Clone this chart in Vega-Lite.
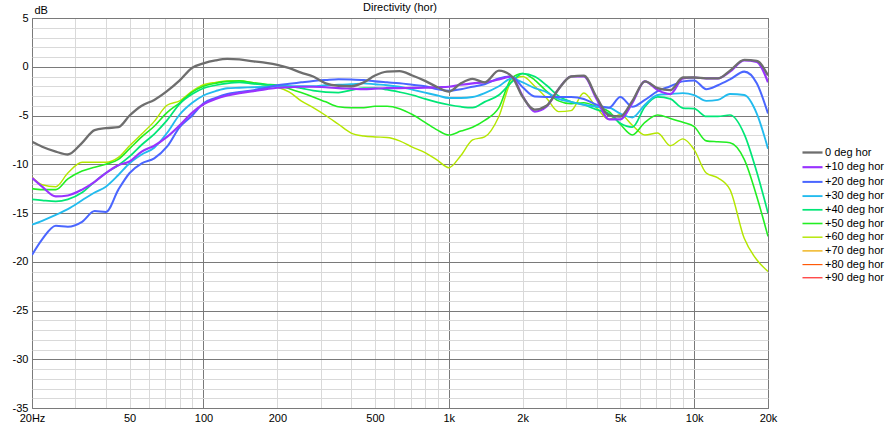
{
  "$schema": "https://vega.github.io/schema/vega-lite/v6.json",
  "width": 736,
  "height": 390,
  "autosize": "none",
  "padding": {"left": 32, "top": 18, "right": 124, "bottom": 20},
  "background": "white",
  "title": {"text": "Directivity (hor)", "fontSize": 11, "fontWeight": "normal", "offset": -9, "color": "#000"},
  "data": {
    "values": [
      {"f": 20, "0 deg hor": -7.7, "+10 deg hor": -11.4, "+20 deg hor": -19.3, "+30 deg hor": -16.2, "+40 deg hor": -13.6, "+50 deg hor": -12.5, "+60 deg hor": -11.3},
      {"f": 22, "0 deg hor": -8.2, "+10 deg hor": -12.3, "+20 deg hor": -17.7, "+30 deg hor": -15.8, "+40 deg hor": -13.7, "+50 deg hor": -12.6, "+60 deg hor": -12.1},
      {"f": 25, "0 deg hor": -8.7, "+10 deg hor": -13.3, "+20 deg hor": -16.3, "+30 deg hor": -15.2, "+40 deg hor": -13.8, "+50 deg hor": -12.6, "+60 deg hor": -12.3},
      {"f": 28, "0 deg hor": -9.0, "+10 deg hor": -13.2, "+20 deg hor": -16.4, "+30 deg hor": -14.6, "+40 deg hor": -13.6, "+50 deg hor": -11.5, "+60 deg hor": -10.9},
      {"f": 32, "0 deg hor": -7.8, "+10 deg hor": -12.6, "+20 deg hor": -15.9, "+30 deg hor": -13.7, "+40 deg hor": -12.9, "+50 deg hor": -10.7, "+60 deg hor": -9.8},
      {"f": 36, "0 deg hor": -6.5, "+10 deg hor": -11.8, "+20 deg hor": -14.8, "+30 deg hor": -12.9, "+40 deg hor": -11.8, "+50 deg hor": -10.3, "+60 deg hor": -9.8},
      {"f": 40, "0 deg hor": -6.3, "+10 deg hor": -10.9, "+20 deg hor": -14.9, "+30 deg hor": -12.3, "+40 deg hor": -10.9, "+50 deg hor": -10.0, "+60 deg hor": -9.8},
      {"f": 45, "0 deg hor": -6.2, "+10 deg hor": -10.1, "+20 deg hor": -12.6, "+30 deg hor": -11.1, "+40 deg hor": -10.1, "+50 deg hor": -9.5, "+60 deg hor": -9.3},
      {"f": 50, "0 deg hor": -5.0, "+10 deg hor": -9.7, "+20 deg hor": -10.9, "+30 deg hor": -9.9, "+40 deg hor": -9.2, "+50 deg hor": -8.4, "+60 deg hor": -8.1},
      {"f": 56, "0 deg hor": -4.0, "+10 deg hor": -8.7, "+20 deg hor": -9.9, "+30 deg hor": -9.0, "+40 deg hor": -8.0, "+50 deg hor": -7.2, "+60 deg hor": -6.9},
      {"f": 63, "0 deg hor": -3.4, "+10 deg hor": -8.1, "+20 deg hor": -9.4, "+30 deg hor": -8.3, "+40 deg hor": -6.9, "+50 deg hor": -6.1, "+60 deg hor": -5.6},
      {"f": 71, "0 deg hor": -2.5, "+10 deg hor": -7.2, "+20 deg hor": -8.2, "+30 deg hor": -6.8, "+40 deg hor": -5.5, "+50 deg hor": -4.7, "+60 deg hor": -3.95},
      {"f": 80, "0 deg hor": -1.4, "+10 deg hor": -6.0, "+20 deg hor": -6.2, "+30 deg hor": -4.9, "+40 deg hor": -3.8, "+50 deg hor": -3.7, "+60 deg hor": -3.5},
      {"f": 90, "0 deg hor": -0.1, "+10 deg hor": -4.7, "+20 deg hor": -5.0, "+30 deg hor": -3.7, "+40 deg hor": -2.8, "+50 deg hor": -2.6, "+60 deg hor": -2.5},
      {"f": 100, "0 deg hor": 0.35, "+10 deg hor": -3.85, "+20 deg hor": -3.75, "+30 deg hor": -2.95, "+40 deg hor": -2.2, "+50 deg hor": -2.0, "+60 deg hor": -1.85},
      {"f": 112, "0 deg hor": 0.65, "+10 deg hor": -3.3, "+20 deg hor": -3.2, "+30 deg hor": -2.5, "+40 deg hor": -1.9, "+50 deg hor": -1.7, "+60 deg hor": -1.6},
      {"f": 125, "0 deg hor": 0.8, "+10 deg hor": -2.95, "+20 deg hor": -2.8, "+30 deg hor": -2.2, "+40 deg hor": -1.7, "+50 deg hor": -1.5, "+60 deg hor": -1.45},
      {"f": 140, "0 deg hor": 0.75, "+10 deg hor": -2.7, "+20 deg hor": -2.6, "+30 deg hor": -2.15, "+40 deg hor": -1.6, "+50 deg hor": -1.45, "+60 deg hor": -1.45},
      {"f": 160, "0 deg hor": 0.55, "+10 deg hor": -2.5, "+20 deg hor": -2.4, "+30 deg hor": -2.1, "+40 deg hor": -1.75, "+50 deg hor": -1.65, "+60 deg hor": -1.65},
      {"f": 180, "0 deg hor": 0.4, "+10 deg hor": -2.3, "+20 deg hor": -2.15, "+30 deg hor": -2.05, "+40 deg hor": -1.85, "+50 deg hor": -1.8, "+60 deg hor": -1.9},
      {"f": 200, "0 deg hor": 0.2, "+10 deg hor": -2.15, "+20 deg hor": -1.9, "+30 deg hor": -2.0, "+40 deg hor": -1.9, "+50 deg hor": -1.9, "+60 deg hor": -2.1},
      {"f": 224, "0 deg hor": -0.15, "+10 deg hor": -2.1, "+20 deg hor": -1.75, "+30 deg hor": -2.0, "+40 deg hor": -2.0, "+50 deg hor": -2.25, "+60 deg hor": -2.6},
      {"f": 250, "0 deg hor": -0.6, "+10 deg hor": -2.05, "+20 deg hor": -1.6, "+30 deg hor": -2.0, "+40 deg hor": -2.2, "+50 deg hor": -2.65, "+60 deg hor": -3.5},
      {"f": 280, "0 deg hor": -1.0, "+10 deg hor": -2.05, "+20 deg hor": -1.45, "+30 deg hor": -2.0, "+40 deg hor": -2.45, "+50 deg hor": -3.1, "+60 deg hor": -4.2},
      {"f": 315, "0 deg hor": -1.7, "+10 deg hor": -2.1, "+20 deg hor": -1.35, "+30 deg hor": -1.9, "+40 deg hor": -2.6, "+50 deg hor": -3.6, "+60 deg hor": -5.0},
      {"f": 355, "0 deg hor": -1.95, "+10 deg hor": -2.2, "+20 deg hor": -1.27, "+30 deg hor": -1.85, "+40 deg hor": -2.65, "+50 deg hor": -4.1, "+60 deg hor": -5.9},
      {"f": 400, "0 deg hor": -2.0, "+10 deg hor": -2.25, "+20 deg hor": -1.3, "+30 deg hor": -1.8, "+40 deg hor": -2.4, "+50 deg hor": -4.2, "+60 deg hor": -6.8},
      {"f": 450, "0 deg hor": -1.6, "+10 deg hor": -2.3, "+20 deg hor": -1.37, "+30 deg hor": -1.7, "+40 deg hor": -2.2, "+50 deg hor": -4.2, "+60 deg hor": -7.1},
      {"f": 500, "0 deg hor": -0.9, "+10 deg hor": -2.25, "+20 deg hor": -1.5, "+30 deg hor": -1.8, "+40 deg hor": -2.2, "+50 deg hor": -4.05, "+60 deg hor": -7.2},
      {"f": 560, "0 deg hor": -0.5, "+10 deg hor": -2.2, "+20 deg hor": -1.6, "+30 deg hor": -1.9, "+40 deg hor": -2.35, "+50 deg hor": -4.05, "+60 deg hor": -7.25},
      {"f": 630, "0 deg hor": -0.45, "+10 deg hor": -2.2, "+20 deg hor": -1.7, "+30 deg hor": -2.05, "+40 deg hor": -2.6, "+50 deg hor": -4.3, "+60 deg hor": -7.6},
      {"f": 710, "0 deg hor": -0.9, "+10 deg hor": -2.17, "+20 deg hor": -1.85, "+30 deg hor": -2.35, "+40 deg hor": -2.9, "+50 deg hor": -4.9, "+60 deg hor": -8.25},
      {"f": 800, "0 deg hor": -1.45, "+10 deg hor": -2.15, "+20 deg hor": -2.0, "+30 deg hor": -2.65, "+40 deg hor": -3.3, "+50 deg hor": -5.7, "+60 deg hor": -8.8},
      {"f": 900, "0 deg hor": -2.1, "+10 deg hor": -2.1, "+20 deg hor": -2.3, "+30 deg hor": -2.95, "+40 deg hor": -3.65, "+50 deg hor": -6.5, "+60 deg hor": -9.6},
      {"f": 1000, "0 deg hor": -2.55, "+10 deg hor": -2.05, "+20 deg hor": -2.45, "+30 deg hor": -3.2, "+40 deg hor": -3.9, "+50 deg hor": -7.0, "+60 deg hor": -10.35},
      {"f": 1120, "0 deg hor": -1.7, "+10 deg hor": -1.85, "+20 deg hor": -2.3, "+30 deg hor": -3.2, "+40 deg hor": -4.1, "+50 deg hor": -6.6, "+60 deg hor": -9.1},
      {"f": 1250, "0 deg hor": -1.25, "+10 deg hor": -1.7, "+20 deg hor": -2.05, "+30 deg hor": -3.1, "+40 deg hor": -4.2, "+50 deg hor": -6.2, "+60 deg hor": -7.5},
      {"f": 1400, "0 deg hor": -1.6, "+10 deg hor": -1.6, "+20 deg hor": -1.8, "+30 deg hor": -2.7, "+40 deg hor": -3.6, "+50 deg hor": -5.5, "+60 deg hor": -7.2},
      {"f": 1600, "0 deg hor": -0.4, "+10 deg hor": -1.3, "+20 deg hor": -1.2, "+30 deg hor": -2.0, "+40 deg hor": -2.9, "+50 deg hor": -4.2, "+60 deg hor": -5.1},
      {"f": 1800, "0 deg hor": -0.95, "+10 deg hor": -1.0, "+20 deg hor": -1.0, "+30 deg hor": -1.2, "+40 deg hor": -1.6, "+50 deg hor": -1.2, "+60 deg hor": -1.5},
      {"f": 2000, "0 deg hor": -3.1, "+10 deg hor": -3.0, "+20 deg hor": -2.1, "+30 deg hor": -1.6, "+40 deg hor": -0.7, "+50 deg hor": -0.7, "+60 deg hor": -1.0},
      {"f": 2240, "0 deg hor": -4.4, "+10 deg hor": -4.6, "+20 deg hor": -3.05, "+30 deg hor": -2.2, "+40 deg hor": -1.0, "+50 deg hor": -1.36, "+60 deg hor": -2.0},
      {"f": 2500, "0 deg hor": -4.0, "+10 deg hor": -4.1, "+20 deg hor": -3.1, "+30 deg hor": -2.6, "+40 deg hor": -1.9, "+50 deg hor": -2.5, "+60 deg hor": -3.2},
      {"f": 2800, "0 deg hor": -2.3, "+10 deg hor": -2.3, "+20 deg hor": -3.1, "+30 deg hor": -3.3, "+40 deg hor": -3.0, "+50 deg hor": -3.5, "+60 deg hor": -4.6},
      {"f": 3150, "0 deg hor": -1.0, "+10 deg hor": -1.0, "+20 deg hor": -3.1, "+30 deg hor": -3.6, "+40 deg hor": -3.6, "+50 deg hor": -3.8, "+60 deg hor": -4.5},
      {"f": 3550, "0 deg hor": -0.9, "+10 deg hor": -1.0, "+20 deg hor": -3.3, "+30 deg hor": -3.9, "+40 deg hor": -3.9, "+50 deg hor": -3.7, "+60 deg hor": -2.7},
      {"f": 4000, "0 deg hor": -3.1, "+10 deg hor": -3.3, "+20 deg hor": -3.9, "+30 deg hor": -4.1, "+40 deg hor": -4.4, "+50 deg hor": -4.1, "+60 deg hor": -4.2},
      {"f": 4500, "0 deg hor": -5.0, "+10 deg hor": -5.4, "+20 deg hor": -4.2, "+30 deg hor": -4.2, "+40 deg hor": -4.8, "+50 deg hor": -4.6, "+60 deg hor": -5.4},
      {"f": 5000, "0 deg hor": -5.1, "+10 deg hor": -5.4, "+20 deg hor": -3.1, "+30 deg hor": -4.8, "+40 deg hor": -5.8, "+50 deg hor": -5.9, "+60 deg hor": -4.9},
      {"f": 5600, "0 deg hor": -3.5, "+10 deg hor": -3.7, "+20 deg hor": -4.1, "+30 deg hor": -5.2, "+40 deg hor": -6.2, "+50 deg hor": -7.0, "+60 deg hor": -6.0},
      {"f": 6300, "0 deg hor": -1.5, "+10 deg hor": -1.5, "+20 deg hor": -3.4, "+30 deg hor": -3.9, "+40 deg hor": -4.1, "+50 deg hor": -5.7, "+60 deg hor": -7.0},
      {"f": 7100, "0 deg hor": -2.2, "+10 deg hor": -2.4, "+20 deg hor": -2.5, "+30 deg hor": -2.9, "+40 deg hor": -3.1, "+50 deg hor": -4.95, "+60 deg hor": -6.8},
      {"f": 8000, "0 deg hor": -2.4, "+10 deg hor": -2.8, "+20 deg hor": -2.0, "+30 deg hor": -2.8, "+40 deg hor": -3.3, "+50 deg hor": -5.3, "+60 deg hor": -8.1},
      {"f": 9000, "0 deg hor": -1.1, "+10 deg hor": -1.2, "+20 deg hor": -1.5, "+30 deg hor": -2.7, "+40 deg hor": -4.25, "+50 deg hor": -5.7, "+60 deg hor": -7.4},
      {"f": 10000, "0 deg hor": -1.1, "+10 deg hor": -1.1, "+20 deg hor": -1.4, "+30 deg hor": -2.9, "+40 deg hor": -4.3, "+50 deg hor": -6.15, "+60 deg hor": -8.5},
      {"f": 11200, "0 deg hor": -1.2, "+10 deg hor": -1.2, "+20 deg hor": -2.3, "+30 deg hor": -3.5, "+40 deg hor": -5.1, "+50 deg hor": -7.6, "+60 deg hor": -10.9},
      {"f": 12500, "0 deg hor": -1.2, "+10 deg hor": -1.2, "+20 deg hor": -1.9, "+30 deg hor": -3.4, "+40 deg hor": -5.1, "+50 deg hor": -7.7, "+60 deg hor": -11.4},
      {"f": 14000, "0 deg hor": -0.4, "+10 deg hor": -0.5, "+20 deg hor": -1.3, "+30 deg hor": -2.8, "+40 deg hor": -4.95, "+50 deg hor": -7.8, "+60 deg hor": -12.6},
      {"f": 16000, "0 deg hor": 0.7, "+10 deg hor": 0.65, "+20 deg hor": -0.5, "+30 deg hor": -2.9, "+40 deg hor": -6.9, "+50 deg hor": -9.5, "+60 deg hor": -17.6},
      {"f": 18000, "0 deg hor": 0.6, "+10 deg hor": 0.5, "+20 deg hor": -1.7, "+30 deg hor": -4.8, "+40 deg hor": -10.8, "+50 deg hor": -13.3, "+60 deg hor": -19.8},
      {"f": 20000, "0 deg hor": -0.9, "+10 deg hor": -1.6, "+20 deg hor": -4.8, "+30 deg hor": -8.4, "+40 deg hor": -15.0, "+50 deg hor": -17.4, "+60 deg hor": -21.0}
    ]
  },
  "transform": [
    {"fold": ["+60 deg hor", "+50 deg hor", "+40 deg hor", "+30 deg hor", "+20 deg hor", "+10 deg hor", "0 deg hor"], "as": ["series", "db"]}
  ],
  "mark": {"type": "line", "interpolate": "monotone", "clip": true},
  "encoding": {
    "x": {
      "field": "f",
      "type": "quantitative",
      "scale": {"type": "log", "domain": [20, 20000], "nice": false},
      "axis": {
        "title": null,
        "values": [20, 30, 40, 50, 60, 70, 80, 90, 100, 200, 300, 400, 500, 600, 700, 800, 900, 1000, 2000, 3000, 4000, 5000, 6000, 7000, 8000, 9000, 10000, 20000],
        "labelExpr": "indexof([20, 50, 100, 200, 500, 1000, 2000, 5000, 10000, 20000], datum.value) < 0 ? '' : datum.value == 20 ? '20Hz' : datum.value >= 1000 ? (datum.value / 1000) + 'k' : '' + datum.value",
        "labelOverlap": false,
        "labelFlush": false,
        "ticks": false,
        "domain": false,
        "grid": true,
        "gridColor": {"condition": {"test": "datum.value == 20 || datum.value == 100 || datum.value == 1000 || datum.value == 10000 || datum.value == 20000", "value": "#7a7a7a"}, "value": "#d9d9d9"},
        "labelFontSize": 11,
        "labelColor": "#000",
        "labelPadding": 4
      }
    },
    "y": {
      "field": "db",
      "type": "quantitative",
      "scale": {"domain": [-35, 5], "nice": false, "zero": false},
      "axis": {
        "title": "dB",
        "titleAngle": 0,
        "titleX": 2,
        "titleY": -3,
        "titleAlign": "left",
        "titleBaseline": "bottom",
        "titleFontWeight": "normal",
        "titleFontSize": 11,
        "titleColor": "#000",
        "values": [-35, -34, -33, -32, -31, -30, -29, -28, -27, -26, -25, -24, -23, -22, -21, -20, -19, -18, -17, -16, -15, -14, -13, -12, -11, -10, -9, -8, -7, -6, -5, -4, -3, -2, -1, 0, 1, 2, 3, 4, 5],
        "labelExpr": "datum.value % 5 == 0 ? '' + datum.value : ''",
        "labelOverlap": false,
        "ticks": false,
        "domain": false,
        "grid": true,
        "gridColor": {"condition": {"test": "datum.value % 5 == 0", "value": "#7a7a7a"}, "value": "#d9d9d9"},
        "labelFontSize": 11,
        "labelColor": "#000",
        "labelPadding": 4
      }
    },
    "color": {
      "field": "series",
      "type": "nominal",
      "scale": {
        "domain": ["0 deg hor", "+10 deg hor", "+20 deg hor", "+30 deg hor", "+40 deg hor", "+50 deg hor", "+60 deg hor", "+70 deg hor", "+80 deg hor", "+90 deg hor"],
        "range": ["#6e6e6e", "#9933ff", "#4a66ff", "#22bbee", "#00e676", "#22ee22", "#b4e600", "#eeaa00", "#ff5500", "#ff0000"]
      },
      "legend": {
        "title": null,
        "orient": "none",
        "legendX": 773,
        "legendY": 127,
        "symbolType": "M-1.67,0H1.67",
        "symbolSize": 144,
        "labelFontSize": 11,
        "labelColor": "#000",
        "labelOffset": 5,
        "rowPadding": 1.7,
        "padding": 0
      }
    },
    "strokeWidth": {
      "field": "series",
      "type": "nominal",
      "scale": {
        "domain": ["0 deg hor", "+10 deg hor", "+20 deg hor", "+30 deg hor", "+40 deg hor", "+50 deg hor", "+60 deg hor", "+70 deg hor", "+80 deg hor", "+90 deg hor"],
        "range": [2.3, 1, 1, 1, 1, 1, 1, 1, 1, 1]
      },
      "legend": {
        "title": null,
        "orient": "none",
        "legendX": 773,
        "legendY": 127,
        "symbolType": "M-1.67,0H1.67",
        "symbolSize": 144,
        "labelFontSize": 11,
        "labelColor": "#000",
        "labelOffset": 5,
        "rowPadding": 1.7,
        "padding": 0
      }
    }
  },
  "config": {
    "font": "Liberation Sans",
    "view": {"stroke": "#7a7a7a"}
  }
}
